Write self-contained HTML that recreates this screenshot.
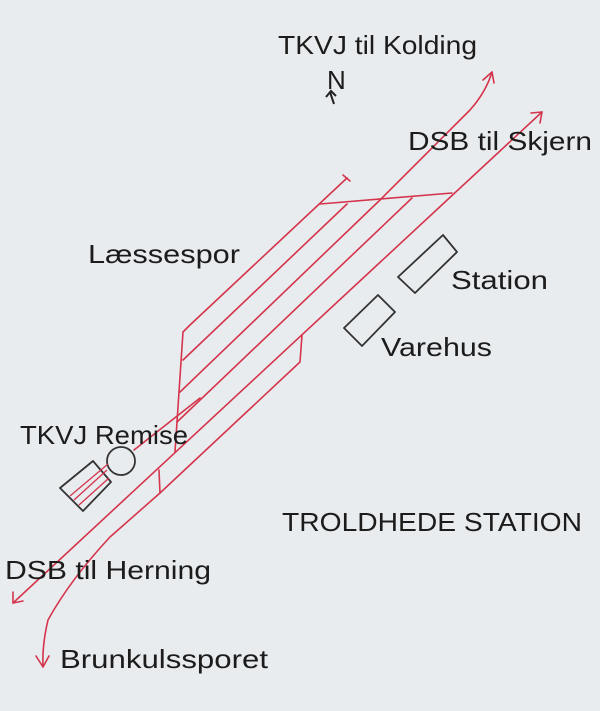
<!DOCTYPE html>
<html><head><meta charset="utf-8"><style>
html,body{margin:0;padding:0;background:#e9ecee;}
svg{display:block;}
text{font-family:"Liberation Sans",sans-serif;font-size:26px;fill:#1c1c1c;}
</style></head><body>
<svg width="600" height="711" viewBox="0 0 600 711" xmlns="http://www.w3.org/2000/svg">
<rect width="600" height="711" fill="#e9ecee"/>
<g fill="none" stroke="#d4344c" stroke-width="1.6" stroke-linecap="round" stroke-linejoin="round">
  <path d="M347,178 L190,325 L183,332 L175,452"/>
  <path d="M343,175 L350,181"/>
  <path d="M320,204 L452,193"/>
  <path d="M347,204 L183,360"/>
  <path d="M380,200 L180,392"/>
  <path d="M412,198 L177,422"/>
  <path d="M380,200 L470,110 Q486,92 492,72"/>
  <path d="M483,80 L492,72 L494,83"/>
  <path d="M200,398 L134,450"/>
  <path d="M542,112 L13,603"/>
  <path d="M531,113 L542,112 L540,123"/>
  <path d="M13,592 L13,603 L23,601"/>
  <path d="M302,335 L300,362 L160,493 L110,537 Q70,580 48,620 Q42,645 43,667"/>
  <path d="M36,656 L43,667 L49,656"/>
  <path d="M159,470 L160,493"/>
</g>
<g fill="none" stroke="#333" stroke-width="1.8" stroke-linejoin="round">
  <polygon points="443,235 457,252 415,293 398,277"/>
  <polygon points="378,295 395,312 362,346 344,328"/>
  <polygon points="93,461 111,482 83,511 60,488"/>
  <circle cx="121" cy="461" r="14"/>
</g>
<g stroke="#d4344c" stroke-width="1.3" fill="none">
  <path d="M108,464 L70,496"/>
  <path d="M107,470 L74,500"/>
  <path d="M109,478 L79,505"/>
</g>
<text x="278" y="54" textLength="199" lengthAdjust="spacingAndGlyphs">TKVJ til Kolding</text>
<text x="327" y="89">N</text>
<path d="M330,92 L334,104 M326,97 L331,91 L336,96" stroke="#222" stroke-width="2" fill="none"/>
<text x="408" y="150" textLength="184" lengthAdjust="spacingAndGlyphs">DSB til Skjern</text>
<text x="88" y="263" textLength="152" lengthAdjust="spacingAndGlyphs">Læssespor</text>
<text x="451" y="289" textLength="97" lengthAdjust="spacingAndGlyphs">Station</text>
<text x="381" y="356" textLength="111" lengthAdjust="spacingAndGlyphs">Varehus</text>
<text x="20" y="444" textLength="168" lengthAdjust="spacingAndGlyphs">TKVJ Remise</text>
<text x="282" y="531" textLength="300" lengthAdjust="spacingAndGlyphs">TROLDHEDE STATION</text>
<text x="5" y="579" textLength="206" lengthAdjust="spacingAndGlyphs">DSB til Herning</text>
<text x="60" y="668" textLength="208" lengthAdjust="spacingAndGlyphs">Brunkulssporet</text>
</svg>
</body></html>
